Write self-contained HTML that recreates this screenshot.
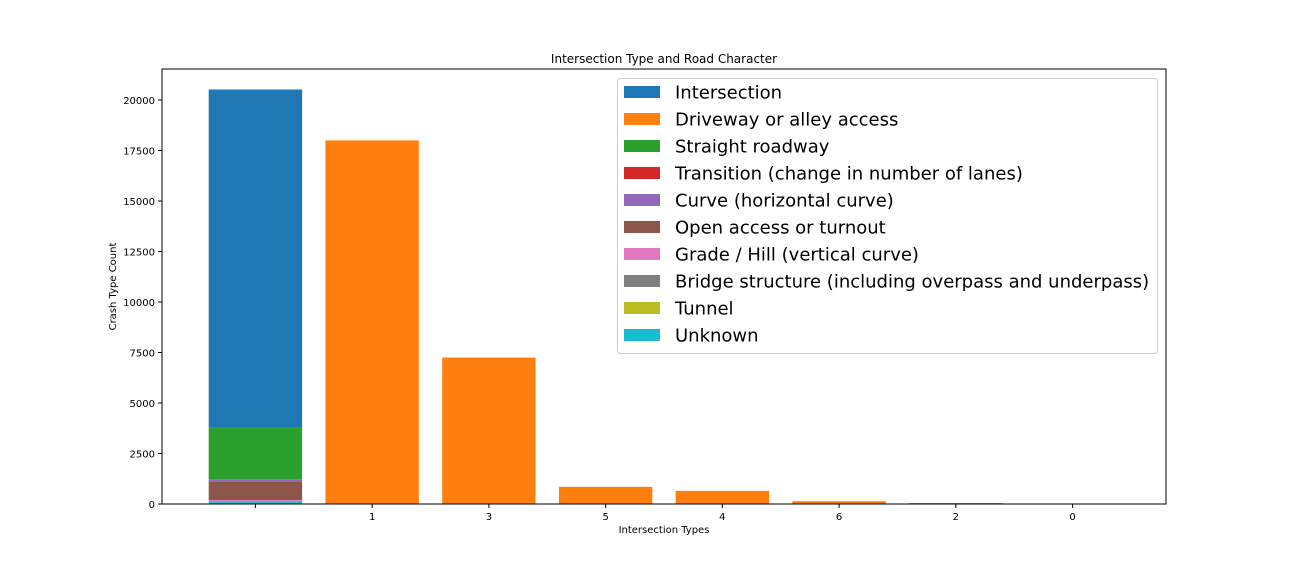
<!DOCTYPE html>
<html><head><meta charset="utf-8"><style>
body{margin:0;background:#fff;}
svg text{font-family:"DejaVu Sans","Liberation Sans",sans-serif;}
</style></head><body>
<svg id="chart" width="1296" height="576" xmlns="http://www.w3.org/2000/svg"></svg>
<script>
const categories = ["", "1", "3", "5", "4", "6", "2", "0"];
const orangeValues = [0, 18000, 7250, 850, 650, 140, 50, 0];
const stackNames = ["Unknown", "Grade / Hill (vertical curve)", "Open access or turnout", "Curve (horizontal curve)", "Straight roadway", "Intersection"];
const stackValues = [130, 70, 920, 100, 2570, 16730];
const yTicks = [0, 2500, 5000, 7500, 10000, 12500, 15000, 17500, 20000];
const legendNames = ["Intersection","Driveway or alley access","Straight roadway","Transition (change in number of lanes)","Curve (horizontal curve)","Open access or turnout","Grade / Hill (vertical curve)","Bridge structure (including overpass and underpass)","Tunnel","Unknown"];
const legendColors = ["#1f77b4","#ff7f0e","#2ca02c","#d62728","#9467bd","#8c564b","#e377c2","#7f7f7f","#bcbd22","#17becf"];
const colorOf = n => legendColors[legendNames.indexOf(n)];

const svg = document.getElementById('chart');
const NS = "http://www.w3.org/2000/svg";
const L=162,R=1166,T=69,B=504;
const x = i => L + (i + 0.8) * (R - L) / 8.6;
const bw = 0.8 * (R - L) / 8.6;
const y = v => B - v * (404 / 20000);
function mk(tag, attrs, name, txt){const e=document.createElementNS(NS,tag);for(const k in attrs)e.setAttribute(k,attrs[k]);


if(txt!==undefined)e.textContent=txt;svg.appendChild(e);return e;}

// stacked first bar
let acc=0;
stackValues.forEach((v,k)=>{
  mk('rect',{x:x(0)-bw/2,y:y(acc+v),width:bw,height:y(acc)-y(acc+v),fill:colorOf(stackNames[k])},'bar-stack-'+k);
  acc+=v;
});
orangeValues.forEach((v,i)=>{ if(v>0) mk('rect',{x:x(i)-bw/2,y:y(v),width:bw,height:y(0)-y(v),fill:'#ff7f0e'},'bar-'+categories[i]); });

mk('rect',{x:L,y:T,width:R-L,height:B-T,fill:'none',stroke:'#000','stroke-width':1},'plot-frame');
yTicks.forEach(t=>{
  mk('line',{x1:L-4,x2:L,y1:y(t),y2:y(t),stroke:'#000'},'y-tick');
  mk('text',{x:L-7,y:y(t)+4,'text-anchor':'end','font-size':10},'y-tick-label',t);
});
categories.forEach((c,i)=>{
  mk('line',{x1:x(i),x2:x(i),y1:B,y2:B+4,stroke:'#000'},'x-tick');
  mk('text',{x:x(i),y:B+16,'text-anchor':'middle','font-size':10},'x-tick-label',c);
});
mk('text',{x:(L+R)/2,y:63,'text-anchor':'middle','font-size':12},'chart-title','Intersection Type and Road Character');
mk('text',{x:(L+R)/2,y:533,'text-anchor':'middle','font-size':10},'x-axis-title','Intersection Types');
mk('text',{x:116,y:(T+B)/2,'text-anchor':'middle','font-size':10,transform:'rotate(-90 116 '+((T+B)/2)+')'},'y-axis-title','Crash Type Count');

mk('rect',{x:617.5,y:78.5,width:540,height:275,rx:3,fill:'#fff','fill-opacity':0.8,stroke:'#ccc'},'legend-box');
legendNames.forEach((n,k)=>{
  const yy=92+27*k;
  mk('rect',{x:624,y:yy-6,width:36,height:12,fill:legendColors[k]},'legend-swatch');
  mk('text',{x:675,y:yy+6.5,'font-size':18},'legend-entry',n);
});
</script>
</body></html>
